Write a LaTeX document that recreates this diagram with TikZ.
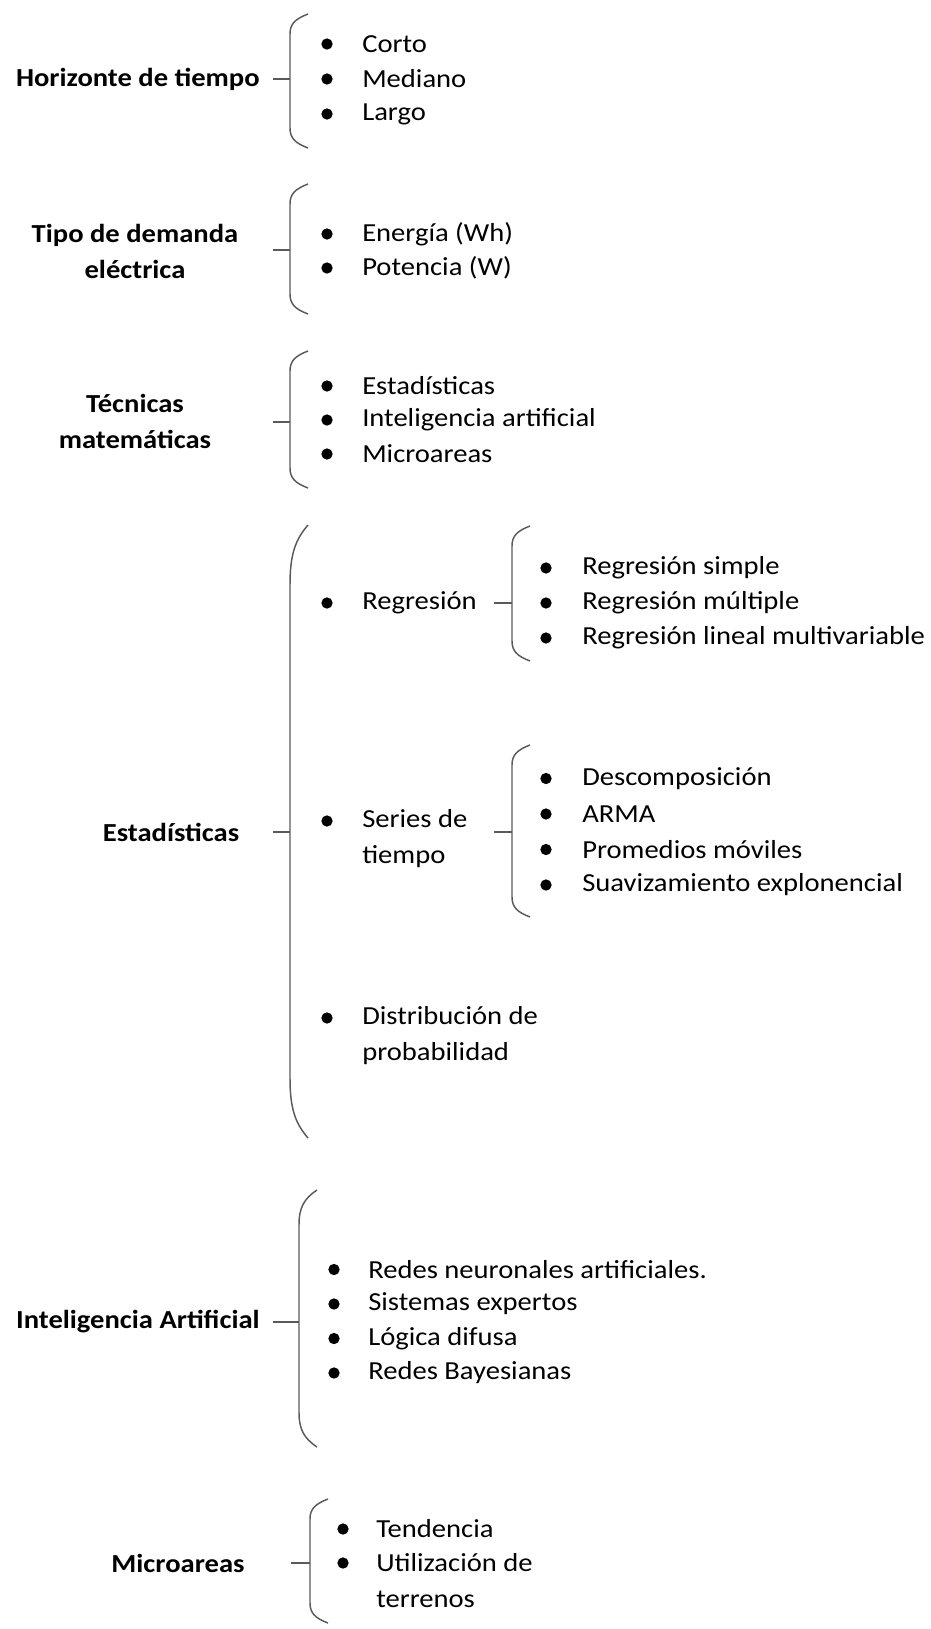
\documentclass[tikz,border=0pt]{standalone}
\usepackage{fontspec}
\setmainfont{Carlito}[FakeStretch=1.1]
\usetikzlibrary{positioning}
\definecolor{bracegray}{RGB}{90,90,90}
\newcommand{\bracketat}[5]{%
  \draw[brace] (#2+18,#3) .. controls (#2+5,#3+#5/4) and (#2,#3+#5/2) .. (#2,#3+#5) -- (#2,#4-#5) .. controls (#2,#4-#5/2) and (#2+5,#4-#5/4) .. (#2+18,#4);
  \coordinate (#1) at (#2,#3);}
\begin{document}
\begin{tikzpicture}[x=0.75pt, y=-0.75pt,
    head/.style={font=\bfseries\fontsize{19.5}{27}\selectfont, align=center, inner sep=0pt},
    entry/.style={font=\fontsize{19.5}{27}\selectfont, anchor=west, align=left, inner sep=0pt},
    dot/.style={circle, fill=black, inner sep=0pt, minimum size=8.5pt},
    brace/.style={draw=bracegray, line width=1.1pt},
    stub/.style={draw=bracegray, line width=1.1pt}]
    \useasboundingbox (0,0) rectangle (931,1629);

    \node[head, anchor=east] (horizonte) at (260,79) {Horizonte de tiempo};
    \bracketat{b-hor}{290}{14}{148}{20}
    \coordinate (s-hor) at (273,79);
    \coordinate (e-hor) at (290,79);
    \draw[stub] (s-hor) -- (e-hor);
    \foreach \t [count=\i] in {Corto, Mediano, Largo} {
        \node[dot] (hor-dot-\i) at (327, 9+35*\i) {};
        \node[entry] (hor-\i) at (362, 9+35*\i) {\t};
    }

    \node[head] (tipo) at (135,251) {Tipo de demanda\\eléctrica};
    \bracketat{b-tipo}{290}{184}{314}{20}
    \coordinate (s-tipo) at (273,250);
    \coordinate (e-tipo) at (290,250);
    \draw[stub] (s-tipo) -- (e-tipo);
    \foreach \t [count=\i] in {Energía (Wh), Potencia (W)} {
        \node[dot] (tipo-dot-\i) at (327, 200+34*\i) {};
        \node[entry] (tipo-\i) at (362, 200+34*\i) {\t};
    }

    \node[head] (tecnicas) at (135,421) {Técnicas\\matemáticas};
    \bracketat{b-tec}{290}{351}{488}{20}
    \coordinate (s-tec) at (273,422);
    \coordinate (e-tec) at (290,422);
    \draw[stub] (s-tec) -- (e-tec);
    \foreach \t [count=\i] in {Estadísticas, Inteligencia artificial, Microareas} {
        \node[dot] (tec-dot-\i) at (327, 352+34*\i) {};
        \node[entry] (tec-\i) at (362, 352+34*\i) {\t};
    }

    \node[head] (estad) at (171,832) {Estadísticas};
    \bracketat{b-est}{290}{525}{1138}{60}
    \coordinate (s-est) at (273,832);
    \coordinate (e-est) at (290,832);
    \draw[stub] (s-est) -- (e-est);

    \node[dot] (reg-dot) at (327,603) {};
    \node[entry] (reg) at (362,603) {Regresión};
    \bracketat{b-reg}{512}{526}{661}{20}
    \coordinate (s-reg) at (494,603);
    \coordinate (e-reg) at (512,603);
    \draw[stub] (s-reg) -- (e-reg);
    \foreach \t [count=\i] in {Regresión simple, Regresión múltiple, Regresión lineal multivariable} {
        \node[dot] (reg-dot-\i) at (546, 533+35*\i) {};
        \node[entry] (reg-\i) at (582, 533+35*\i) {\t};
    }

    \node[dot] (ser-dot) at (327,821) {};
    \node[entry] (ser) at (362,839) {Series de\\tiempo};
    \bracketat{b-ser}{512}{745}{917}{20}
    \coordinate (s-ser) at (494,832);
    \coordinate (e-ser) at (512,832);
    \draw[stub] (s-ser) -- (e-ser);
    \foreach \t [count=\i] in {Descomposición, ARMA, Promedios móviles, Suavizamiento explonencial} {
        \node[dot] (ser-dot-\i) at (546, 743+35.5*\i) {};
        \node[entry] (ser-\i) at (582, 743+35.5*\i) {\t};
    }

    \node[dot] (dis-dot) at (327,1018) {};
    \node[entry] (dis) at (362,1036) {Distribución de\\probabilidad};

    \node[head, anchor=east] (ia) at (260,1322) {Inteligencia Artificial};
    \bracketat{b-ia}{299}{1190}{1447}{35}
    \coordinate (s-ia) at (273,1322);
    \coordinate (e-ia) at (299,1322);
    \draw[stub] (s-ia) -- (e-ia);
    \foreach \t [count=\i] in {Redes neuronales artificiales., Sistemas expertos, Lógica difusa, Redes Bayesianas} {
        \node[dot] (ia-dot-\i) at (334, 1235+34.5*\i) {};
        \node[entry] (ia-\i) at (368, 1235+34.5*\i) {\t};
    }

    \node[head] (micro) at (178,1563) {Microareas};
    \bracketat{b-mic}{310}{1499}{1623}{20}
    \coordinate (s-mic) at (291,1563);
    \coordinate (e-mic) at (310,1563);
    \draw[stub] (s-mic) -- (e-mic);
    \node[dot] (mic-dot-1) at (343,1529) {};
    \node[entry] (mic-1) at (376,1529) {Tendencia};
    \node[dot] (mic-dot-2) at (343,1563) {};
    \node[entry] (mic-2) at (376,1581) {Utilización de\\terrenos};
\end{tikzpicture}
\end{document}
